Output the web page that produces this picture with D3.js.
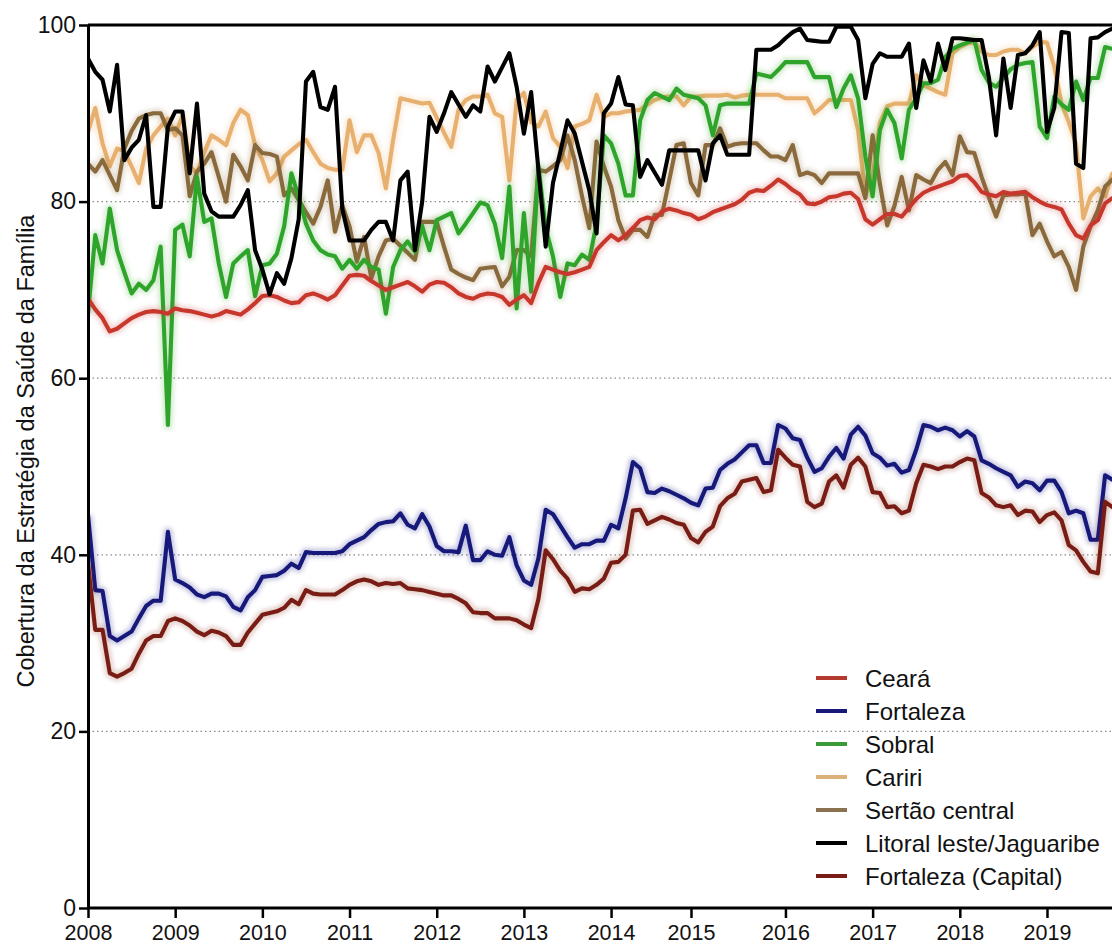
<!DOCTYPE html>
<html>
<head>
<meta charset="utf-8">
<script src="https://cdn.jsdelivr.net/npm/d3@7"></script>
<style>
  html, body { margin: 0; padding: 0; background: #fff; }
  svg { display: block; }
  text { font-family: "Liberation Sans", Arial, sans-serif; fill: #111; }
</style>
</head>
<body>
<svg id="chart" width="1112" height="945"></svg>
<script>
// Monthly coverage (%), Jan 2008 onwards, one value per month
const yearLabels = ["2008","2009","2010","2011","2012","2013","2014","2015","2016","2017","2018","2019"];
const yearTickMonths = [0, 12, 24, 36, 48, 60, 72, 83, 96, 108, 120, 132];
const yTicks = [0, 20, 40, 60, 80, 100];

const ceara = [
  69.0,67.8,66.8,65.3,65.6,66.2,66.8,67.2,67.5,67.6,
  67.5,67.3,67.9,67.7,67.6,67.4,67.2,67.0,67.2,67.6,
  67.4,67.2,67.8,68.5,69.3,69.4,69.2,68.8,68.5,68.6,
  69.4,69.6,69.3,68.9,69.4,70.5,71.6,71.7,71.6,71.0,
  70.5,70.0,70.3,70.6,70.9,70.4,69.8,70.6,70.9,70.8,
  70.3,69.6,69.2,69.0,69.4,69.6,69.5,69.2,68.3,68.9,
  69.4,68.5,70.8,72.6,72.3,72.0,71.8,72.0,72.3,72.6,
  74.5,75.4,76.2,75.6,76.2,77.0,77.9,78.2,78.0,78.9,
  79.2,79.0,78.7,78.5,78.0,78.3,78.8,79.1,79.4,79.7,
  80.2,81.0,81.3,81.2,81.8,82.5,82.0,81.3,80.8,79.8,
  79.7,80.0,80.5,80.6,80.9,81.0,80.3,78.0,77.4,78.0,
  78.6,78.6,78.3,79.3,80.3,81.0,81.4,81.7,82.0,82.3,
  82.9,83.0,82.2,81.1,80.8,80.6,81.1,80.9,81.0,81.1,
  80.5,80.0,79.6,79.4,79.1,77.5,76.2,75.8,77.3,77.9,
  79.8,80.4
];

const fortaleza = [
  44.5,36.0,35.9,30.8,30.3,30.8,31.3,32.8,34.2,34.8,
  34.8,42.6,37.2,36.8,36.3,35.5,35.2,35.6,35.6,35.3,
  34.1,33.7,35.2,36.0,37.5,37.6,37.7,38.2,39.0,38.5,
  40.3,40.2,40.2,40.2,40.2,40.4,41.2,41.6,42.0,42.8,
  43.5,43.7,43.8,44.7,43.4,43.0,44.6,43.2,41.0,40.4,
  40.4,40.3,43.3,39.4,39.4,40.4,40.0,39.9,42.0,38.8,
  37.1,36.6,39.6,45.1,44.6,43.3,42.0,40.8,41.2,41.2,
  41.6,41.6,43.4,43.0,46.4,50.5,49.8,47.1,47.0,47.5,
  47.2,46.8,46.4,45.9,45.6,47.5,47.6,49.6,50.3,50.8,
  51.6,52.4,52.4,50.4,50.4,54.7,54.3,53.2,53.0,51.0,
  49.4,49.8,51.1,52.1,50.9,53.6,54.5,53.5,51.5,51.0,
  50.1,50.3,49.3,49.6,51.9,54.7,54.5,54.1,54.4,54.1,
  53.4,54.0,53.4,50.7,50.3,49.8,49.4,49.0,47.7,48.3,
  48.1,47.3,48.4,48.4,47.1,44.7,45.0,44.7,41.7,41.7,
  49.0,48.5
];

const sobral = [
  67.3,76.2,73.0,79.2,74.5,72.0,69.6,70.7,70.0,71.1,
  74.9,54.7,76.8,77.4,73.8,82.8,77.7,78.1,73.0,69.2,
  73.0,73.8,74.5,69.3,72.8,73.0,74.1,77.2,83.2,80.5,
  77.5,75.6,74.5,74.0,73.8,72.4,73.4,72.4,73.4,72.6,
  72.3,67.3,72.6,74.5,75.5,74.3,77.2,74.5,77.9,78.3,
  78.7,76.4,77.5,78.7,79.9,79.6,77.5,73.6,81.7,67.9,
  78.7,69.8,84.0,77.0,73.8,69.2,73.0,72.8,74.0,73.4,
  77.5,87.5,86.6,84.3,80.7,80.7,89.2,91.5,92.3,91.9,
  91.5,92.8,92.1,91.9,91.7,90.9,87.5,90.9,91.1,91.1,
  91.1,91.1,94.5,94.3,94.1,94.9,95.8,95.8,95.8,95.8,
  94.1,94.1,94.1,90.7,92.8,94.3,91.7,85.1,80.6,88.1,
  90.4,88.9,84.9,90.4,91.7,93.4,93.4,93.8,96.4,97.3,
  97.7,98.0,98.3,94.9,93.5,93.0,94.0,95.0,95.5,95.7,
  95.8,88.5,87.2,91.9,91.0,90.4,93.6,91.5,94.0,94.0,
  97.5,97.3
];

const cariri = [
  87.9,90.6,86.6,84.0,86.0,85.7,84.0,82.1,86.0,87.5,
  88.5,89.4,87.5,89.8,84.0,83.2,85.6,87.5,87.0,86.4,
  88.9,90.4,89.8,86.4,84.7,82.3,83.2,85.1,85.8,86.5,
  87.0,85.6,84.3,83.8,83.6,83.6,89.2,85.6,87.5,87.5,
  85.5,81.5,87.0,91.7,91.5,91.3,91.1,91.2,89.5,87.8,
  86.2,90.4,91.5,91.9,91.9,92.1,90.0,89.6,82.4,91.5,
  92.3,89.0,88.5,90.2,87.2,86.2,83.8,88.5,88.8,89.2,
  92.1,89.6,90.0,90.0,90.2,90.3,90.4,91.0,91.5,91.8,
  91.9,91.9,90.9,91.9,91.9,92.0,92.0,92.0,92.1,91.8,
  92.0,92.1,92.1,92.1,92.1,92.1,91.7,91.7,91.7,91.7,
  90.0,90.7,91.5,91.5,91.5,91.5,88.1,80.7,82.8,88.9,
  90.8,91.1,91.1,91.1,94.3,93.2,92.8,92.4,92.1,96.8,
  97.5,97.9,98.1,97.0,96.6,96.6,97.0,97.2,97.2,96.8,
  97.5,98.1,98.0,95.3,91.1,89.0,86.5,78.1,80.6,81.5,
  80.6,83.2
];

const sertaoCentral = [
  84.3,83.4,84.7,83.0,81.3,86.0,88.0,89.4,89.8,90.0,
  90.0,88.1,88.3,87.5,80.6,83.4,84.3,85.6,82.8,80.0,
  85.3,84.0,82.4,86.4,85.5,85.4,85.1,80.7,81.5,80.2,
  78.8,77.5,79.4,82.4,76.6,79.6,77.2,73.2,76.0,71.3,
  73.8,75.6,75.8,75.0,74.2,73.4,77.7,77.7,77.7,74.9,
  72.3,71.8,71.4,71.1,72.4,72.5,72.6,70.4,71.5,74.5,
  74.5,73.8,83.6,83.4,84.0,84.7,87.5,84.7,80.6,77.0,
  86.8,84.0,81.7,77.9,75.8,76.8,76.8,76.0,78.5,78.5,
  82.4,86.4,86.6,82.1,80.7,86.4,86.4,88.3,86.2,86.5,
  86.6,86.6,86.6,85.8,85.1,85.1,84.7,86.4,83.0,83.3,
  83.0,82.1,83.2,83.2,83.2,83.2,83.2,80.4,87.5,82.0,
  77.3,79.5,82.8,79.0,83.0,82.5,82.1,83.6,84.5,83.0,
  87.4,85.6,85.5,82.8,80.5,78.3,80.7,80.8,80.8,81.0,
  76.2,77.5,75.5,73.8,74.3,72.6,70.0,74.9,77.2,79.0,
  81.7,82.5
];

const litoralLeste = [
  96.2,94.7,93.8,90.2,95.5,84.7,86.1,87.0,89.8,79.4,
  79.4,88.5,90.2,90.2,83.2,91.1,80.9,78.9,78.3,78.3,
  78.3,79.6,81.3,74.5,72.3,69.5,71.9,70.7,73.6,78.0,
  93.6,94.7,90.7,90.4,93.0,79.2,75.6,75.6,75.6,76.8,
  77.7,77.7,75.6,82.4,83.4,74.5,80.0,89.6,87.9,90.0,
  92.4,91.0,89.6,90.9,90.2,95.3,93.6,95.2,96.8,93.0,
  87.7,92.4,83.6,74.9,82.1,85.6,89.2,87.7,84.5,81.3,
  76.4,90.0,91.1,94.1,91.0,90.9,82.8,84.7,83.3,81.9,
  85.8,85.8,85.8,85.8,85.8,82.4,86.6,87.5,85.3,85.3,
  85.3,85.3,97.2,97.2,97.2,97.7,98.5,99.2,99.6,98.3,
  98.2,98.1,98.1,99.8,99.8,99.8,98.3,91.7,95.6,96.8,
  96.4,96.4,96.4,97.9,90.6,96.0,93.6,97.9,94.9,98.5,
  98.5,98.4,98.3,98.3,94.1,87.5,96.2,90.6,96.6,96.8,
  97.7,99.2,87.9,90.6,99.2,99.1,84.3,83.8,98.5,98.6,
  99.2,99.6
];

const fortalezaCapital = [
  39.0,31.5,31.5,26.6,26.2,26.6,27.1,28.8,30.3,30.8,
  30.8,32.5,32.8,32.5,32.0,31.3,30.9,31.4,31.2,30.8,
  29.8,29.8,31.2,32.2,33.2,33.4,33.6,34.0,34.9,34.4,
  36.0,35.6,35.5,35.5,35.5,36.0,36.6,37.0,37.2,37.0,
  36.6,36.8,36.7,36.8,36.2,36.1,36.0,35.8,35.6,35.4,
  35.4,35.0,34.5,33.5,33.4,33.4,32.8,32.8,32.8,32.6,
  32.1,31.7,35.0,40.5,39.5,38.2,37.3,35.8,36.2,36.1,
  36.6,37.3,39.1,39.2,40.0,45.0,45.1,43.5,43.9,44.3,
  44.0,43.6,43.4,41.9,41.4,42.6,43.2,45.5,46.4,46.9,
  48.3,48.5,48.7,47.1,47.3,51.9,51.0,50.2,50.0,46.0,
  45.4,45.8,48.3,49.0,47.6,50.2,51.0,50.0,47.1,47.0,
  45.4,45.5,44.7,45.0,48.1,50.2,50.0,49.7,50.0,50.0,
  50.5,50.9,50.7,47.0,46.5,45.6,45.4,45.6,44.5,45.0,
  44.9,43.7,44.5,44.8,43.9,41.1,40.5,39.2,38.1,37.9,
  46.0,45.4
];

const seriesNames = ["Ceará", "Fortaleza", "Sobral", "Cariri", "Sertão central", "Litoral leste/Jaguaribe", "Fortaleza (Capital)"];
const seriesValues = [ceara, fortaleza, sobral, cariri, sertaoCentral, litoralLeste, fortalezaCapital];
const seriesColors = ["#c8372c", "#16187a", "#2ea52a", "#e8b06e", "#8a6a3c", "#000000", "#7a1c16"];
const legendColors = ["#b4392f", "#16187a", "#3a9a3a", "#dcb27c", "#8a7150", "#000000", "#7a1c16"];
// painting order, black line on top
const drawOrder = [3, 4, 2, 0, 1, 6, 5];

const svg = d3.select("#chart");
const plotLeft = 88, plotRight = 1112, plotTop = 25, plotBottom = 908;

const x = d3.scaleLinear().domain([0, 141]).range([plotLeft, plotLeft + 141 * 7.265]);
const y = d3.scaleLinear().domain([0, 100]).range([plotBottom, plotTop]);

const defs = svg.append("defs");
defs.append("clipPath").attr("id", "plotClip")
  .append("rect").attr("x", plotLeft).attr("y", plotTop - 4)
  .attr("width", plotRight - plotLeft).attr("height", plotBottom - plotTop + 8);
defs.append("filter").attr("id", "soft")
  .attr("x", "-5%").attr("y", "-5%").attr("width", "110%").attr("height", "110%")
  .append("feGaussianBlur").attr("stdDeviation", 2.2);

// dotted horizontal gridlines
svg.append("g").selectAll("line")
  .data(yTicks.filter(d => d > 0 && d < 100))
  .join("line")
  .attr("x1", plotLeft).attr("x2", plotRight)
  .attr("y1", d => y(d)).attr("y2", d => y(d))
  .attr("stroke", "#8a8a8a").attr("stroke-width", 1.3)
  .attr("stroke-dasharray", "1.5,3");

const line = d3.line().x((d, i) => x(i)).y(d => y(d));

const plot = svg.append("g").attr("clip-path", "url(#plotClip)");
drawOrder.forEach(k => {
  if (k !== 5) {
    plot.append("path")
      .attr("d", line(seriesValues[k]))
      .attr("fill", "none")
      .attr("stroke", seriesColors[k])
      .attr("stroke-width", 9)
      .attr("stroke-opacity", 0.22)
      .attr("stroke-linejoin", "round")
      .attr("filter", "url(#soft)");
  }
  plot.append("path")
    .attr("d", line(seriesValues[k]))
    .attr("fill", "none")
    .attr("stroke", seriesColors[k])
    .attr("stroke-width", 4.1)
    .attr("stroke-linejoin", "round")
    .attr("stroke-linecap", "round");
});

// frame: top border, left and bottom axes
svg.append("line").attr("x1", plotLeft).attr("x2", plotRight).attr("y1", plotTop).attr("y2", plotTop)
  .attr("stroke", "#000").attr("stroke-width", 3);

const yAxis = svg.append("g").attr("transform", `translate(${plotLeft},0)`)
  .call(d3.axisLeft(y).tickValues(yTicks).tickSize(9).tickPadding(3).tickSizeOuter(0));
yAxis.select(".domain").attr("stroke-width", 3);
yAxis.selectAll(".tick line").attr("stroke-width", 2.5);
yAxis.selectAll("text").attr("font-size", 23).attr("font-family", "Liberation Sans, Arial, sans-serif").attr("fill", "#111");

const xAxis = svg.append("g").attr("transform", `translate(0,${plotBottom})`)
  .call(d3.axisBottom(x).tickValues(yearTickMonths)
    .tickFormat((d, i) => yearLabels[i]).tickSize(10).tickPadding(6).tickSizeOuter(0));
xAxis.select(".domain").attr("d", `M${plotLeft},0H${plotRight}`).attr("stroke-width", 3);
xAxis.selectAll(".tick line").attr("stroke-width", 2.5);
xAxis.selectAll("text")
  .attr("font-size", 21.5)
  .attr("font-family", "Liberation Sans, Arial, sans-serif")
  .attr("fill", "#111")
  .attr("y", 32.2)
  .attr("dy", 0);

// y axis title
svg.append("text")
  .attr("transform", "translate(28,451) rotate(-90)")
  .attr("text-anchor", "middle")
  .attr("dominant-baseline", "middle")
  .attr("font-size", 23.5)
  .text("Cobertura da Estratégia da Saúde da Família");

// legend
const legend = svg.append("g").attr("transform", "translate(816,678)");
const rows = legend.selectAll("g").data(seriesNames).join("g")
  .attr("transform", (d, i) => `translate(0,${i * 33})`);
rows.append("line").attr("x1", 0).attr("x2", 31).attr("y1", 0).attr("y2", 0)
  .attr("stroke", (d, i) => legendColors[i]).attr("stroke-width", 4);
rows.append("text").attr("x", 49).attr("y", 0).attr("dominant-baseline", "central")
  .attr("font-size", 24).text(d => d);
</script>
</body>
</html>
